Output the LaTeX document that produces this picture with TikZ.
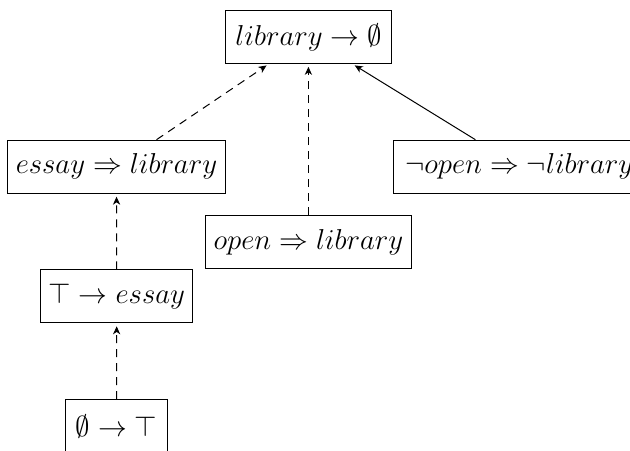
\documentclass[tikz,border=0pt]{standalone}
\usetikzlibrary{positioning}
\usetikzlibrary{arrows.meta}
\tikzset{
  formula/.style={
    rectangle, draw=black, line width=0.5pt, fill=white,
    minimum height=26.5pt, inner xsep=4pt, inner ysep=3pt,
    align=center, font=\Large
  },
  impl/.style={-{Stealth[length=4pt,width=3.6pt,inset=1.2pt]}, line width=0.5pt, shorten >=1.5pt},
  impld/.style={impl, dash pattern=on 4pt off 3pt}
}
\begin{document}
\begin{tikzpicture}[x=0.5pt,y=-0.5pt]
  \useasboundingbox (0,0) rectangle (630,450);
  \clip (0,0) rectangle (630,450);

  \node[formula, minimum height=26.3pt, inner xsep=5pt] (lib) at (308.7,37) {$library \to \emptyset$};
  \node[formula] (essay) at (116.5,166.7) {$essay \Rightarrow library$};
  \node[formula, anchor=west, inner xsep=6pt] (nopen) at (392.7,166.7) {$\neg open \Rightarrow \neg library$};
  \node[formula] (open) at (308.4,242.2) {$open \Rightarrow library$};
  \node[formula] (tess) at (116.7,296.3) {$\top \to essay$};
  \node[formula, inner xsep=5pt, anchor=north] (etop) at (116.5,399) {$\emptyset \to \top$};

  \draw[impld] (essay) -- (lib);
  \draw[impld] (open) -- (open |- lib.south);
  \draw[impl] (nopen) -- (lib);
  \draw[impld] (tess) -- (essay);
  \draw[impld] (etop) -- (tess);
\end{tikzpicture}
\end{document}
